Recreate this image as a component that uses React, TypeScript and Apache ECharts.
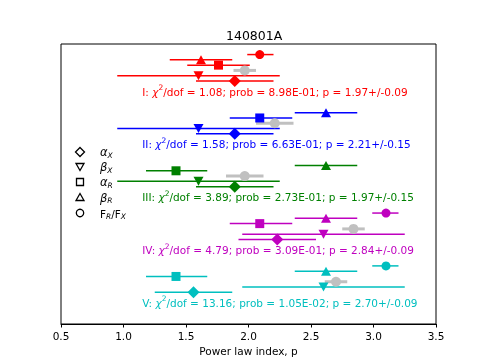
import React, { useEffect, useRef } from 'react';
import * as echarts from 'echarts';

// ---- data ----
const groupNames = ['I', 'II', 'III', 'IV', 'V'];
const groupLevels = [5, 4, 3, 2, 1];
const groupColors = ['#ff0000', '#0000ff', '#008000', '#bf00bf', '#00bfbf'];
const chi2dof = ['1.08', '1.58', '3.89', '4.79', '13.16'];
const probs = ['8.98E-01', '6.63E-01', '2.73E-01', '3.09E-01', '1.05E-02'];
const pFit = [1.97, 2.21, 1.97, 2.84, 2.7];
const pFitErr = [0.09, 0.15, 0.15, 0.09, 0.09];

// [value, lower, upper] per group (null when absent)
const fRfX: (number[] | null)[] = [[2.09, 1.99, 2.2], null, null, [3.1, 2.99, 3.2], [3.1, 2.99, 3.2]];
const betaR: (number[] | null)[] = [[1.62, 1.37, 1.87], [2.62, 2.37, 2.87], [2.62, 2.37, 2.87], [2.62, 2.37, 2.87], [2.62, 2.37, 2.87]];
const alphaR: (number[] | null)[] = [[1.76, 1.51, 2.01], [2.09, 1.85, 2.35], [1.42, 1.18, 1.67], [2.09, 1.85, 2.35], [1.42, 1.18, 1.67]];
const betaX: (number[] | null)[] = [[1.6, 0.95, 2.25], [1.6, 0.95, 2.25], [1.6, 0.95, 2.25], [2.6, 1.95, 3.25], [2.6, 1.95, 3.25]];
const alphaX: (number[] | null)[] = [[1.89, 1.58, 2.2], [1.89, 1.58, 2.2], [1.89, 1.58, 2.2], [2.23, 1.92, 2.54], [1.56, 1.25, 1.87]];

const textX = 1.15;
const xMin = 0.5;
const xMax = 3.5;
const xStep = 0.5;

const FONT = 'DejaVu Sans';

type Row = { name: string; data: (number[] | null)[]; offset: number; symbol: string; size: number | number[]; rotate: number };

const rows: Row[] = [
  { name: 'F_R/F_X', data: fRfX, offset: 0.7, symbol: 'circle', size: 9, rotate: 0 },
  { name: 'beta_R', data: betaR, offset: 0.6, symbol: 'triangle', size: [10, 9], rotate: 0 },
  { name: 'alpha_R', data: alphaR, offset: 0.5, symbol: 'rect', size: 9, rotate: 0 },
  { name: 'beta_X', data: betaX, offset: 0.3, symbol: 'triangle', size: [10, 9], rotate: 180 },
  { name: 'alpha_X', data: alphaX, offset: 0.2, symbol: 'diamond', size: 12, rotate: 0 },
];
const fitOffset = 0.4;

export default function App() {
  const ref = useRef<HTMLDivElement>(null);
  useEffect(() => {
    if (!ref.current) return;
    const chart = echarts.init(ref.current, null, { renderer: 'svg' });

    const barData: any[] = [];
    rows.forEach((r) => {
      r.data.forEach((d, g) => {
        if (!d) return;
        barData.push([d[1], d[2], groupLevels[g] + r.offset, g]);
      });
    });
    const fitBars = pFit.map((p, g) => [p - pFitErr[g], p + pFitErr[g], groupLevels[g] + fitOffset, g]);

    const errRender = (width: number, fixedColor?: string) => (params: any, api: any) => {
      const y = api.value(2);
      const p1 = api.coord([api.value(0), y]);
      const p2 = api.coord([api.value(1), y]);
      const g = api.value(3);
      return {
        type: 'line',
        shape: { x1: p1[0], y1: p1[1], x2: p2[0], y2: p2[1] },
        style: { stroke: fixedColor || groupColors[g], lineWidth: width },
      };
    };

    const markerSeries = rows.map((r) => ({
      type: 'scatter',
      name: r.name,
      symbol: r.symbol,
      symbolSize: r.size,
      symbolRotate: r.rotate,
      z: 5,
      data: r.data
        .map((d, g) => (d ? { value: [d[0], groupLevels[g] + r.offset], itemStyle: { color: groupColors[g], opacity: 1 } } : null))
        .filter((x) => x),
    }));

    const textData = groupNames.map((n, g) => [textX, groupLevels[g], g]);

    const option: any = {
      animation: false,
      title: {
        text: '140801A',
        left: 221,
        top: 24,
        textStyle: { fontSize: 12.5, fontWeight: 'normal', color: '#000', fontFamily: FONT },
      },
      grid: { left: 61, right: 49, top: 44, bottom: 40, show: true, borderColor: '#000', borderWidth: 1, backgroundColor: 'transparent' },
      xAxis: {
        type: 'value',
        min: xMin,
        max: xMax,
        interval: xStep,
        name: 'Power law index, p',
        nameLocation: 'middle',
        nameGap: 20,
        nameTextStyle: { fontSize: 10.5, color: '#000', fontFamily: FONT },
        axisLine: { show: true, lineStyle: { color: '#000', width: 1 } },
        axisTick: { show: true, inside: false, length: 3.5, lineStyle: { color: '#000' } },
        axisLabel: { fontSize: 10.5, color: '#000', fontFamily: FONT, margin: 6, formatter: (v: number) => v.toFixed(1) },
        splitLine: { show: false },
      },
      yAxis: {
        type: 'value',
        min: 0.6,
        max: 5.9,
        show: false,
        splitLine: { show: false },
      },
      series: [
        {
          type: 'custom',
          name: 'errors',
          renderItem: errRender(1.5),
          encode: { x: [0, 1], y: 2 },
          data: barData,
          z: 2,
        },
        {
          type: 'custom',
          name: 'fit errors',
          renderItem: errRender(3, '#c0c0c0'),
          encode: { x: [0, 1], y: 2 },
          data: fitBars,
          z: 3,
        },
        ...markerSeries,
        {
          type: 'scatter',
          name: 'fit',
          symbol: 'circle',
          symbolSize: 10,
          z: 6,
          itemStyle: { color: '#c0c0c0', opacity: 1 },
          data: pFit.map((p, g) => [p, groupLevels[g] + fitOffset]),
        },
        {
          type: 'custom',
          name: 'labels',
          encode: { x: 0, y: 1 },
          data: textData,
          z: 7,
          renderItem: (params: any, api: any) => {
            const g = api.value(2);
            const pt = api.coord([api.value(0), api.value(1)]);
            const c = groupColors[g];
            const txt = `${groupNames[g]}: {it|χ}{sup|2}/dof = ${chi2dof[g]}; prob = ${probs[g]}; p = ${pFit[g].toFixed(2)}+/-${pFitErr[g].toFixed(2)}`;
            return {
              type: 'text',
              x: pt[0],
              y: pt[1],
              style: {
                text: txt,
                fill: c,
                fontSize: 10.5,
                fontFamily: FONT,
                lineHeight: 16,
                align: 'left',
                verticalAlign: 'middle',
                rich: {
                  it: { fontStyle: 'italic', fontSize: 10.5, fontFamily: FONT, fill: c },
                  sup: { fontSize: 7.5, fontFamily: FONT, fill: c, verticalAlign: 'top', lineHeight: 9 },
                },
              },
            };
          },
        },
      ],
      graphic: [
        // legend markers
        { type: 'polygon', shape: { points: [[80, 147.5], [84.5, 152], [80, 156.5], [75.5, 152]] }, style: { fill: '#fff', stroke: '#000', lineWidth: 1.3 } },
        { type: 'polygon', shape: { points: [[76, 163.5], [84, 163.5], [80, 170.5]] }, style: { fill: '#fff', stroke: '#000', lineWidth: 1.3 } },
        { type: 'rect', shape: { x: 76.5, y: 178.5, width: 7, height: 7 }, style: { fill: '#fff', stroke: '#000', lineWidth: 1.3 } },
        { type: 'polygon', shape: { points: [[80, 193.5], [84, 200.5], [76, 200.5]] }, style: { fill: '#fff', stroke: '#000', lineWidth: 1.3 } },
        { type: 'circle', shape: { cx: 80, cy: 213, r: 3.7 }, style: { fill: '#fff', stroke: '#000', lineWidth: 1.3 } },
        // legend labels
        ...[
          { y: 152, t: '{a|α}{s|X}' },
          { y: 167, t: '{a|β}{s|X}' },
          { y: 182, t: '{a|α}{s|R}' },
          { y: 197.5, t: '{a|β}{s|R}' },
          { y: 213.5, t: '{f|F}{s|R}{f|/F}{s|X}' },
        ].map((it) => ({
          type: 'text',
          x: 100,
          y: it.y,
          style: {
            text: it.t,
            fill: '#000',
            fontFamily: FONT,
            fontSize: 10.5,
            lineHeight: 14,
            verticalAlign: 'middle',
            align: 'left',
            rich: {
              a: { fontStyle: 'italic', fontSize: 11.5, fontFamily: FONT, fill: '#000', lineHeight: 14 },
              f: { fontSize: 10.5, fontFamily: FONT, fill: '#000', lineHeight: 14 },
              s: { fontStyle: 'italic', fontSize: 7.5, fontFamily: FONT, fill: '#000', verticalAlign: 'bottom', lineHeight: 10 },
            },
          },
        })),
      ],
    };

    chart.setOption(option);
    return () => chart.dispose();
  }, []);

  return <div ref={ref} style={{ width: 485, height: 364, position: 'fixed', left: 0, top: 0 }} />;
}
